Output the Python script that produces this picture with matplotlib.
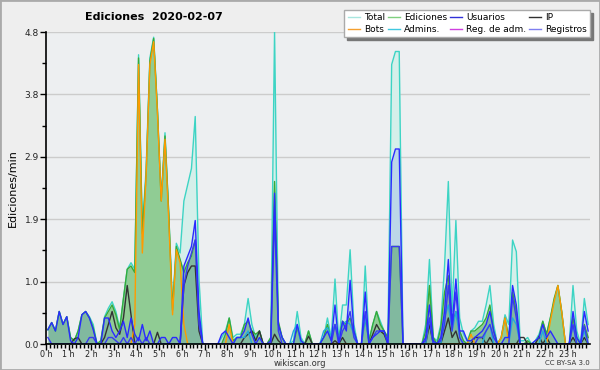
import numpy as np
import matplotlib
import matplotlib.pyplot as plt
from matplotlib.lines import Line2D
from matplotlib.patches import Rectangle

matplotlib.use('agg')

# 10-minute samples, 6 per hour (0 h .. 23 h)
total = [
    0.22, 0.33, 0.2, 0.5, 0.3, 0.42,
    0.1, 0.05, 0.2, 0.45, 0.5, 0.42,
    0.3, 0.0, 0.05, 0.42, 0.55, 0.65,
    0.5, 0.25, 0.7, 1.15, 1.25, 1.15,
    4.45, 1.75, 2.7, 4.4, 4.72, 3.6,
    2.25, 3.25, 2.0, 0.55, 1.55, 1.4,
    2.2, 2.45, 2.7, 3.5, 1.0, 0.0,
    0, 0, 0, 0, 0.1, 0.2,
    0.4, 0.1, 0.15, 0.15, 0.3, 0.7,
    0.3, 0.1, 0.2, 0, 0, 0.1,
    4.8, 0.3, 0.1, 0, 0, 0.05,
    0.5, 0.1, 0, 0.2, 0, 0,
    0, 0.1, 0.4, 0.1, 1.0, 0.05,
    0.6, 0.6, 1.45, 0.3, 0, 0,
    1.2, 0.05, 0.3, 0.5, 0.35, 0.2,
    0.1, 4.3, 4.5, 4.5, 0, 0,
    0, 0, 0, 0, 0.3, 1.3,
    0.1, 0.05, 0.3, 1.2, 2.5, 0.5,
    1.9, 0.4, 0.15, 0.05, 0.2, 0.25,
    0.35, 0.35, 0.6, 0.9, 0.3, 0,
    0.1, 0.45, 0.3, 1.6, 1.42, 0.05,
    0.05, 0.1, 0, 0.05, 0.15, 0.35,
    0.15, 0.4, 0.65, 0.9, 0.5, 0,
    0, 0.9, 0.2, 0, 0.7, 0.3,
]
ediciones = [
    0.22, 0.33, 0.2, 0.5, 0.3, 0.42,
    0.1, 0.05, 0.2, 0.45, 0.5, 0.4,
    0.25, 0, 0.05, 0.4, 0.5, 0.6,
    0.45, 0.22, 0.7, 1.15, 1.2, 1.1,
    4.4, 1.7, 2.6, 4.35, 4.7, 3.6,
    2.2, 3.2, 2.0, 0.52, 1.5, 1.3,
    1.1, 1.25, 1.35, 1.6, 0.4, 0,
    0, 0, 0, 0, 0, 0.15,
    0.4, 0.05, 0.1, 0.1, 0.3, 0.35,
    0.2, 0.15, 0.2, 0, 0, 0.1,
    2.5, 0.35, 0.1, 0, 0, 0,
    0.25, 0.05, 0, 0.2, 0, 0,
    0, 0.1, 0.3, 0.05, 0.3, 0.1,
    0.35, 0.3, 0.4, 0.2, 0, 0,
    0.4, 0.05, 0.3, 0.5, 0.3, 0.2,
    0.1, 1.5, 1.5, 1.5, 0, 0,
    0, 0, 0, 0, 0.2, 0.9,
    0.1, 0, 0.25, 0.8, 1.05, 0.3,
    0.5, 0.2, 0.05, 0, 0.2, 0.2,
    0.25, 0.3, 0.4, 0.6, 0.2, 0,
    0.1, 0.4, 0.1, 0.8, 0.5, 0,
    0, 0.05, 0, 0, 0.1, 0.35,
    0.15, 0.4, 0.7, 0.9, 0.5, 0,
    0, 0.4, 0.1, 0, 0.3, 0.1,
]
usuarios = [
    0.22, 0.33, 0.2, 0.5, 0.3, 0.42,
    0.05, 0, 0.1, 0.45, 0.5, 0.4,
    0.22, 0, 0, 0.4, 0.4, 0.2,
    0.1, 0.2, 0.35, 0.1, 0.4, 0.15,
    0.05, 0.3, 0.05, 0.2, 0, 0,
    0.1, 0.1, 0, 0.1, 0.1, 0,
    1.2, 1.35, 1.5, 1.9, 0.5, 0,
    0, 0, 0, 0, 0.15, 0.2,
    0.1, 0, 0.1, 0.1, 0.2, 0.4,
    0.15, 0, 0.1, 0, 0, 0.05,
    2.32, 0.3, 0.1, 0, 0, 0,
    0.3, 0.05, 0, 0, 0, 0,
    0, 0.1, 0.2, 0.05, 0.6, 0,
    0.35, 0.2, 0.98, 0.2, 0, 0,
    0.8, 0, 0.1, 0.15, 0.2, 0.2,
    0, 2.8, 3.0, 3.0, 0, 0,
    0, 0, 0, 0, 0.1, 0.6,
    0.05, 0, 0.1, 0.5, 1.3, 0.3,
    1.0, 0.2, 0.2, 0.05, 0.05, 0.1,
    0.15, 0.2, 0.3, 0.5, 0.2, 0,
    0, 0.1, 0.1, 0.9, 0.6, 0,
    0, 0, 0, 0.05, 0.1, 0.3,
    0.1, 0.2, 0.1, 0, 0, 0,
    0, 0.5, 0.1, 0, 0.5, 0.2,
]
registros = [
    0.1, 0, 0, 0, 0, 0,
    0, 0, 0, 0, 0, 0.1,
    0.1, 0, 0, 0, 0.1, 0.1,
    0.05, 0, 0.1, 0, 0.1, 0,
    0.1, 0, 0.1, 0, 0, 0,
    0, 0, 0, 0, 0, 0,
    0.9, 1.2, 1.4, 1.6, 0.3, 0,
    0, 0, 0, 0, 0, 0,
    0, 0, 0, 0, 0, 0,
    0, 0, 0, 0, 0, 0,
    1.96, 0.2, 0, 0, 0, 0,
    0, 0, 0, 0, 0, 0,
    0, 0, 0, 0, 0.3, 0,
    0.2, 0.3, 0.5, 0.1, 0, 0,
    0.5, 0, 0.1, 0.2, 0.2, 0.2,
    0, 1.5, 1.5, 1.5, 0, 0,
    0, 0, 0, 0, 0.05, 0.4,
    0, 0, 0.05, 0.3, 0.9, 0.2,
    0.8, 0.1, 0, 0, 0, 0,
    0.1, 0.1, 0.2, 0.3, 0.1, 0,
    0, 0, 0, 0.72, 0.4, 0,
    0, 0, 0, 0, 0, 0,
    0, 0, 0, 0, 0, 0,
    0, 0.3, 0, 0, 0.28, 0,
]
ip = [
    0, 0, 0, 0, 0, 0,
    0, 0.08, 0.1, 0, 0, 0,
    0, 0, 0, 0.1, 0.3, 0.5,
    0.25, 0.15, 0.4, 0.9, 0.45, 0,
    0, 0, 0, 0, 0, 0.18,
    0, 0, 0, 0, 0, 0,
    0.9, 1.1, 1.2, 1.2, 0.2, 0,
    0, 0, 0, 0, 0, 0,
    0, 0, 0, 0, 0.1, 0.15,
    0.2, 0.05, 0.2, 0, 0, 0,
    0.15, 0.05, 0, 0, 0, 0,
    0, 0, 0, 0.12, 0, 0,
    0, 0, 0, 0, 0.05, 0,
    0.1, 0, 0, 0, 0, 0,
    0, 0, 0.15, 0.3, 0.2, 0.15,
    0, 0, 0, 0, 0, 0,
    0, 0, 0, 0, 0, 0.3,
    0, 0, 0, 0.2, 0.4, 0.1,
    0.2, 0, 0, 0, 0, 0.1,
    0.1, 0.1, 0, 0.1, 0, 0,
    0, 0, 0, 0, 0, 0.1,
    0.1, 0, 0, 0, 0.12, 0,
    0.1, 0, 0, 0, 0, 0,
    0, 0.1, 0, 0, 0.1, 0,
]
bots = [
    0, 0, 0, 0, 0, 0,
    0, 0, 0, 0, 0, 0,
    0, 0, 0, 0, 0, 0,
    0, 0, 0, 0, 0, 0.3,
    4.3, 1.4, 2.6, 4.3, 4.65, 3.55,
    2.2, 3.15, 1.9, 0.45, 1.45, 1.25,
    0.3, 0, 0, 0, 0, 0,
    0, 0, 0, 0, 0, 0,
    0.3, 0, 0, 0, 0, 0,
    0, 0, 0, 0, 0, 0,
    0, 0, 0, 0, 0, 0,
    0, 0, 0, 0, 0, 0,
    0, 0, 0, 0, 0, 0,
    0, 0, 0, 0, 0, 0,
    0, 0, 0, 0, 0, 0,
    0, 0, 0, 0, 0, 0,
    0, 0, 0, 0, 0, 0,
    0, 0, 0, 0, 0, 0,
    0, 0, 0, 0, 0.15, 0,
    0, 0, 0, 0, 0, 0,
    0.1, 0.4, 0, 0, 0, 0,
    0, 0, 0, 0, 0, 0,
    0, 0.35, 0.65, 0.9, 0.5, 0,
    0, 0, 0, 0, 0, 0,
]
admins = [
    0, 0, 0, 0, 0, 0,
    0, 0, 0, 0, 0, 0,
    0, 0, 0, 0, 0, 0,
    0, 0, 0, 0, 0, 0,
    0, 0, 0, 0, 0, 0,
    0, 0, 0, 0, 0, 0,
    0, 0, 0, 0, 0, 0,
    0, 0, 0, 0, 0, 0,
    0, 0, 0.1, 0.1, 0.1, 0.2,
    0, 0, 0, 0, 0, 0,
    0, 0, 0, 0, 0, 0.2,
    0.3, 0, 0, 0, 0, 0,
    0, 0.2, 0.25, 0.1, 0.3, 0.1,
    0.3, 0.35, 0.3, 0.15, 0, 0,
    0.42, 0, 0, 0, 0, 0,
    0, 0, 0, 0, 0, 0,
    0, 0, 0, 0, 0, 0.4,
    0, 0, 0, 0.4, 0.6, 0.2,
    0.5, 0.1, 0, 0, 0, 0,
    0, 0, 0.2, 0.3, 0, 0,
    0, 0, 0, 0.4, 0.3, 0,
    0, 0, 0, 0, 0, 0.2,
    0, 0, 0, 0, 0, 0,
    0, 0.3, 0, 0, 0.2, 0,
]

y_ticks = [0.0, 0.96, 1.92, 2.88, 3.84, 4.8]
y_tick_labels = ['0.0', '1.0', '1.9', '2.9', '3.8', '4.8']
hour_labels = ['%d h' % h for h in range(24)]

legend_labels = ['Total', 'Bots', 'Ediciones', 'Admins.',
                 'Usuarios', 'Reg. de adm.', 'IP', 'Registros']
legend_colors = ['#a8e6df', '#f5a030', '#7fd07f', '#40c8e0',
                 '#3030d8', '#d040e0', '#303030', '#7f7ff0']

t = (np.arange(len(total)) + 0.5) / 6.0

bg = '#eeeeee'
fig = plt.figure(figsize=(6, 3.7), dpi=100, facecolor=bg)
ax = fig.add_axes([46 / 600, 26 / 370, 544 / 600, 312 / 370])
ax.set_facecolor('#edeff1')

ax.fill_between(t, 0, total, color='#d5efea', lw=0)
ax.fill_between(t, 0, ediciones, color='#90cc94', lw=0)
ax.fill_between(t, 0, usuarios, color='#3050e0', alpha=0.15, lw=0)

ax.plot(t, total, color='#3dd4c4', lw=1.0)
ax.plot(t, ediciones, color='#38aa38', lw=1.0)
ax.plot(t, ip, color='#333333', lw=1.0)
ax.plot(t, bots, color='#ff9a00', lw=1.0)
ax.plot(t, admins, color='#22aadd', lw=1.0)
ax.plot(t, registros, color='#3a3af0', lw=1.0)
ax.plot(t, usuarios, color='#2a2aff', lw=1.0)

ax.set_xlim(0, 24)
ax.set_ylim(0, 4.8)
ax.set_yticks(y_ticks)
ax.set_yticklabels(y_tick_labels)
ax.set_yticks([0.48, 1.44, 2.4, 3.36, 4.32], minor=True)
ax.set_xticks(np.arange(24))
ax.set_xticklabels(hour_labels)
ax.set_xticks(np.arange(0, 24, 1 / 6.0), minor=True)

ax.grid(True, axis='y', which='major', color='#cccccc', lw=1)
ax.set_axisbelow(True)
for s in ['top', 'right']:
    ax.spines[s].set_visible(False)
ax.spines['left'].set_linewidth(1.2)
ax.spines['bottom'].set_linewidth(1.2)
ax.tick_params(axis='y', which='major', length=4, width=1, labelsize=6.5,
               labelcolor='#222222', pad=1)
ax.tick_params(axis='x', which='major', length=4, width=1, labelsize=5.8,
               labelcolor='#222222', pad=0)
ax.tick_params(axis='both', which='minor', length=3, width=1)

ax.set_ylabel('Ediciones/min', fontsize=8)
ax.yaxis.set_label_coords(-0.052, 0.5)

fig.text(85 / 600, 1 - 17 / 370, 'Ediciones  2020-02-07', fontsize=8,
         fontweight='bold', ha='left', va='center')

handles = [Line2D([], [], color=c, lw=1) for c in legend_colors]
fig.legend(handles, legend_labels, ncol=4, loc='upper right',
           bbox_to_anchor=(590 / 600, 1 - 10 / 370), fontsize=6.5,
           frameon=True, fancybox=False, shadow={'color': '#777777', 'alpha': 1},
           framealpha=1, edgecolor='#aaaaaa', handlelength=1.4,
           handletextpad=0.4, columnspacing=0.3, labelspacing=0.3,
           borderpad=0.35, borderaxespad=0)

fig.text(300 / 600, 1 - 363.5 / 370, 'wikiscan.org', fontsize=6, ha='center',
         va='center', color='#333333')
fig.text(590 / 600, 1 - 363 / 370, 'CC BY-SA 3.0', fontsize=5, ha='right',
         va='center', color='#333333')

fig.patches.append(Rectangle((0, 0), 1, 1, transform=fig.transFigure,
                             fill=False, edgecolor='#aaaaaa', lw=2))

fig.savefig('out.png', dpi=100, facecolor=bg)
